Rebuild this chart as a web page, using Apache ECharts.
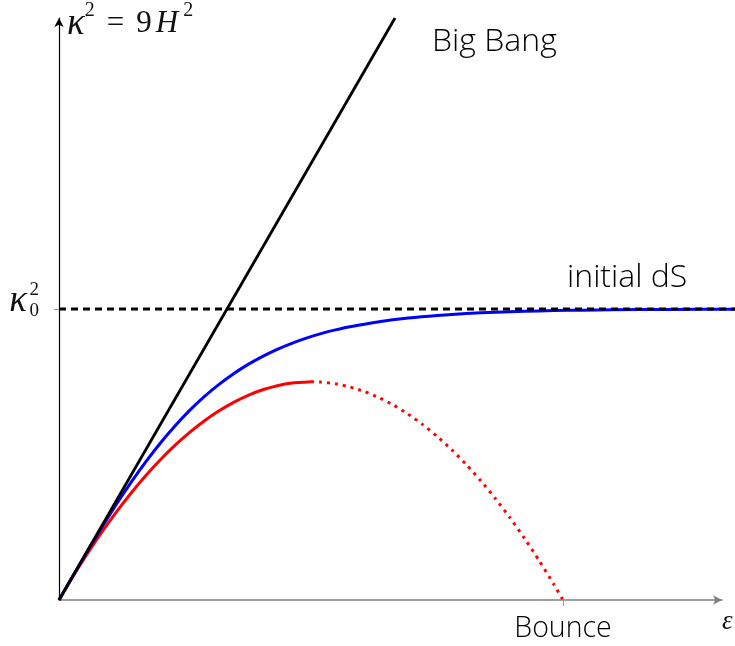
<!DOCTYPE html>
<html>
<head>
<meta charset="utf-8">
<script src="https://cdn.jsdelivr.net/npm/echarts@6/dist/echarts.min.js"></script>
<style>
  html, body { margin: 0; padding: 0; background: #fff; }
  #chart { width: 735px; height: 646px; }
</style>
</head>
<body>
<div id="chart"></div>
<script>
// Axis ranges (κ² in units of κ0², ε in the same scale).
// The plotting area runs slightly past the visible ε-axis arrow.
const xAxisMax = 2.2784;
const xPlotMax = 2.323;
const yMax = 2;

// Tick positions and their labels
const xTickValues = [1.732];
const xTickLabels = ['Bounce'];
const yTickValues = [1];

// Big Bang branch: straight line from the origin
const bigBang = [[0, 0], [1.1547, 2]];

// initial de Sitter level
const dsLevel = [[0, 1], [2.323, 1]];

// blue curve: approaches the de Sitter level
const blueCurve = [
  [0, 0], [0.05, 0.0864], [0.1, 0.1715], [0.15, 0.2541], [0.2, 0.3332],
  [0.25, 0.4078], [0.3, 0.4773], [0.35, 0.5414], [0.4, 0.5998],
  [0.45, 0.6524], [0.5, 0.6995], [0.55, 0.7410], [0.6, 0.7775],
  [0.65, 0.8096], [0.7, 0.8374], [0.75, 0.8615], [0.8, 0.8822],
  [0.85, 0.9000], [0.9, 0.9152], [0.95, 0.9282], [1.0, 0.9392],
  [1.1, 0.9564], [1.2, 0.9690], [1.3, 0.9780], [1.4, 0.9845],
  [1.5, 0.9890], [1.6, 0.9922], [1.7, 0.9945], [1.8, 0.9961],
  [2.0, 0.9980], [2.2, 0.9990], [2.323, 0.9994]
];

// red curve: rising part (solid) up to its maximum
const redRise = [
  [0, 0], [0.05, 0.0841], [0.1, 0.1632], [0.15, 0.2373], [0.2, 0.3064],
  [0.25, 0.3705], [0.3, 0.4296], [0.35, 0.4837], [0.4, 0.5328],
  [0.45, 0.5769], [0.5, 0.6160], [0.55, 0.6501], [0.6, 0.6792],
  [0.65, 0.7033], [0.7, 0.7224], [0.75, 0.7365], [0.8, 0.7456],
  [0.866, 0.7500]
];

// red curve: falling part (dotted) down to the bounce
const redFall = [
  [0.866, 0.7500], [0.9, 0.7488], [0.95, 0.7429], [1.0, 0.7321],
  [1.05, 0.7162], [1.1, 0.6953], [1.15, 0.6694], [1.2, 0.6385],
  [1.25, 0.6026], [1.3, 0.5617], [1.35, 0.5158], [1.4, 0.4649],
  [1.45, 0.4090], [1.5, 0.3481], [1.55, 0.2822], [1.6, 0.2113],
  [1.65, 0.1354], [1.7, 0.0545], [1.732, 0]
];

const sansFont = 'Open Sans';
const sansWeight = 300;
const mathFont = 'Liberation Serif';

const chart = echarts.init(document.getElementById('chart'), null, { renderer: 'canvas' });

const lineBase = {
  type: 'line', xAxisIndex: 0, yAxisIndex: 0, showSymbol: false, symbol: 'none',
  smooth: 0.2, clip: false, silent: true, animation: false
};

// a y axis that only contributes one piece of the κ0² tick label
function labelOnlyAxis(gridIndex, text, size, margin, vAlign, lineHeight) {
  return {
    gridIndex: gridIndex, type: 'value', min: 0, max: yMax, position: 'left',
    splitLine: { show: false }, axisLine: { show: false }, axisTick: { show: false },
    axisLabel: {
      show: true, customValues: yTickValues, margin: margin,
      formatter: () => text, verticalAlign: vAlign, lineHeight: lineHeight,
      fontFamily: mathFont, fontSize: size, color: '#111'
    }
  };
}

const gridBox = { top: 18, bottom: 46, left: 59, outerBoundsMode: 'none', containLabel: false };

chart.setOption({
  animation: false,
  backgroundColor: '#ffffff',
  grid: [
    // plotting area for the curves
    Object.assign({}, gridBox, { right: 0 }),
    // area carrying the visible axes
    Object.assign({}, gridBox, { right: 13 }),
    // area carrying the subscript of κ0²
    Object.assign({}, gridBox, { right: 13 })
  ],
  xAxis: [
    { gridIndex: 0, type: 'value', min: 0, max: xPlotMax, show: false },
    {
      gridIndex: 1, type: 'value', min: 0, max: xAxisMax,
      splitLine: { show: false },
      axisLine: { show: true, onZero: false, symbol: ['none', 'arrow'], symbolSize: [7, 9],
        lineStyle: { color: '#808080', width: 1.6 } },
      axisTick: { show: true, customValues: xTickValues, length: 6, lineStyle: { color: '#999', width: 1 } },
      axisLabel: {
        show: true, customValues: xTickValues, margin: 14,
        formatter: (v) => xTickLabels[xTickValues.indexOf(v)] || '',
        fontFamily: sansFont, fontWeight: sansWeight, fontSize: 28.5, color: '#000'
      },
      name: 'ε', nameLocation: 'end', nameGap: 0,
      nameTextStyle: { fontFamily: mathFont, fontStyle: 'italic', fontSize: 27, color: '#111',
        align: 'left', verticalAlign: 'top', padding: [8, 0, 0, 0] }
    },
    { gridIndex: 2, type: 'value', min: 0, max: xAxisMax, show: false }
  ],
  yAxis: [
    // superscript "2" of κ0²
    labelOnlyAxis(0, '2', 19, 20, 'bottom', 37),
    {
      gridIndex: 1, type: 'value', min: 0, max: yMax, position: 'left',
      splitLine: { show: false },
      axisLine: { show: true, onZero: false, symbol: ['none', 'arrow'], symbolSize: [7, 9],
        lineStyle: { color: '#000', width: 1.2 } },
      axisTick: { show: true, customValues: yTickValues, length: 5, lineStyle: { color: '#999', width: 1 } },
      // κ of κ0²
      axisLabel: {
        show: true, customValues: yTickValues, margin: 32,
        formatter: () => 'κ', verticalAlign: 'bottom', lineHeight: 15,
        fontFamily: mathFont, fontStyle: 'italic', fontSize: 37, color: '#111'
      },
      name: '{k|κ}{s|2}{e|=}{n|9}{h|H}{t|2}', nameLocation: 'end', nameGap: -6,
      nameTextStyle: {
        align: 'left', verticalAlign: 'middle', padding: [0, 0, 0, 8],
        rich: {
          k: { fontFamily: mathFont, fontStyle: 'italic', fontSize: 37, lineHeight: 47, color: '#111' },
          h: { fontFamily: mathFont, fontStyle: 'italic', fontSize: 31, lineHeight: 47, color: '#111' },
          e: { fontFamily: mathFont, fontSize: 31, lineHeight: 47, color: '#111', padding: [0, 12, 0, 9] },
          n: { fontFamily: mathFont, fontSize: 31, lineHeight: 47, color: '#111', padding: [0, 4, 0, 0] },
          s: { fontFamily: mathFont, fontSize: 20, lineHeight: 24, verticalAlign: 'top', color: '#111', padding: [0, 3, 0, 0] },
          t: { fontFamily: mathFont, fontSize: 20, lineHeight: 24, verticalAlign: 'top', color: '#111', padding: [0, 0, 0, 5] }
        }
      }
    },
    // subscript "0" of κ0²
    labelOnlyAxis(2, '0', 19, 20, 'top', 4)
  ],
  series: [
    Object.assign({}, lineBase, { name: 'bounce branch', data: redFall,
      lineStyle: { color: '#ff0000', width: 3, type: [3, 5], cap: 'butt' } }),
    Object.assign({}, lineBase, { name: 'red rise', data: redRise,
      lineStyle: { color: '#ff0000', width: 3 } }),
    Object.assign({}, lineBase, { name: 'blue', data: blueCurve,
      lineStyle: { color: '#0000ff', width: 3 } }),
    Object.assign({}, lineBase, { name: 'Big Bang', smooth: false, data: bigBang,
      lineStyle: { color: '#000000', width: 2.8 } }),
    Object.assign({}, lineBase, { name: 'initial dS', smooth: false, data: dsLevel,
      lineStyle: { color: '#000000', width: 2.8, type: [7, 5], cap: 'butt' } })
  ],
  graphic: [
    { type: 'text', left: 432, top: 26, silent: true,
      style: { text: 'Big Bang', fontFamily: sansFont, fontWeight: sansWeight, fontSize: 32, fill: '#000' } },
    { type: 'text', left: 567, top: 262, silent: true,
      style: { text: 'initial dS', fontFamily: sansFont, fontWeight: sansWeight, fontSize: 32, fill: '#000' } }
  ]
});
</script>
</body>
</html>
